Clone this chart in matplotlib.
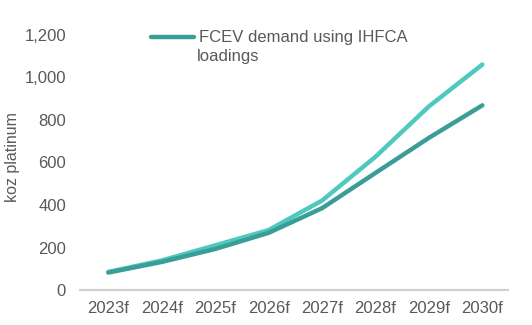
import matplotlib.pyplot as plt

plt.rcParams['font.family'] = ['Liberation Sans', 'DejaVu Sans']

years = ['2023f', '2024f', '2025f', '2026f', '2027f', '2028f', '2029f', '2030f']
fcev_base = [85, 139, 210, 282, 421, 627, 864, 1061]
fcev_ihfca = [82, 132, 193, 269, 385, 551, 716, 869]

grey = '#595959'
dark_teal = '#3A9E96'
light_teal = '#4FC9BF'

fig = plt.figure(figsize=(5.32, 3.25), dpi=100)
ax = fig.add_axes([80 / 532, 35 / 325, 428 / 532, 255 / 325])

x = range(len(years))
ax.plot(x, fcev_base, color=light_teal, lw=3.2, solid_capstyle='round')
ax.plot(x, fcev_ihfca, color=dark_teal, lw=3.2, solid_capstyle='round',
        label='FCEV demand using IHFCA')

ax.set_xlim(-0.53, 7.48)
ax.set_ylim(0, 1200)
ax.set_yticks(range(0, 1201, 200))
ax.set_yticklabels([f'{v:,}' for v in range(0, 1201, 200)])
ax.set_xticks(list(x))
ax.set_xticklabels(years)

for side in ['top', 'right', 'left']:
    ax.spines[side].set_visible(False)
ax.spines['bottom'].set_color('#D0D0D0')
ax.spines['bottom'].set_linewidth(1.5)
ax.tick_params(length=0, labelsize=12, colors=grey, pad=8)
ax.tick_params(axis='y', pad=10)

ax.set_ylabel('koz platinum', fontsize=11.5, color=grey)
ax.yaxis.set_label_coords(-0.14, 0.52)

# legend handle sits level with the first line of the wrapped label
leg = ax.legend(loc='upper left', bbox_to_anchor=(0.13, 1.077), frameon=False,
                fontsize=12, handlelength=2.6, handletextpad=0.3,
                labelcolor=grey)
ax.text(0.273, 0.914, 'loadings', transform=ax.transAxes, fontsize=12,
        color=grey, ha='left', va='center')

fig.savefig('out.png', dpi=100)
